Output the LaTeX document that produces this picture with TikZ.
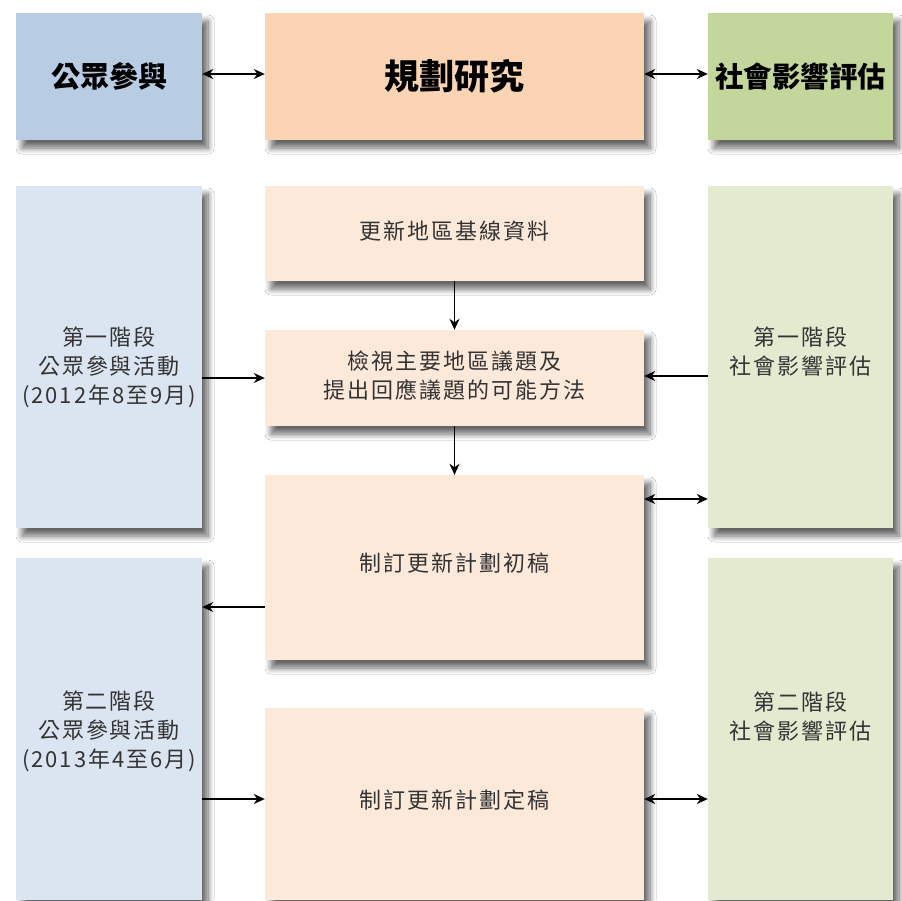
\documentclass[tikz,border=0pt]{standalone}
\usepackage{fontspec}
\setmainfont{Noto Sans CJK TC}
\newfontfamily\bodyfont[LetterSpace=9]{Noto Sans CJK TC}
\usetikzlibrary{arrows.meta,shadows.blur}
\definecolor{topblue}{HTML}{B8CCE4}
\definecolor{toporange}{HTML}{FBD4B4}
\definecolor{topgreen}{HTML}{C3D69B}
\definecolor{lowblue}{HTML}{DBE5F1}
\definecolor{loworange}{HTML}{FDE9D9}
\definecolor{lowgreen}{HTML}{E2EBD0}
\definecolor{txtgray}{HTML}{333333}
\tikzset{
  boxbase/.style={rectangle, inner sep=0pt, draw=none,
    blur shadow={shadow xshift=6pt, shadow yshift=-8pt, shadow blur radius=6pt, shadow blur steps=10, shadow opacity=60}},
  topbox/.style={boxbase, minimum height=127pt, font=\bfseries\fontsize{29}{34}\selectfont},
  lowbox/.style={boxbase},
  txt/.style={align=center, text=txtgray, font=\bodyfont\fontsize{22}{29}\selectfont, inner sep=0pt},
  arr/.style={-{Stealth[length=11pt,width=10pt]}, line width=1.6pt},
  darr/.style={{Stealth[length=11pt,width=10pt]}-{Stealth[length=11pt,width=10pt]}, line width=1.6pt}
}
\begin{document}
\begin{tikzpicture}[x=1pt,y=-1pt]
\useasboundingbox[fill=white] (0,0) rectangle (902,900);
% top row
\node[topbox, fill=topblue, minimum width=186pt] (pa) at (109,76.5) {公眾參與};
\node[topbox, fill=toporange, minimum width=379pt, font=\bfseries\fontsize{35}{40}\selectfont] (pr) at (454.5,76.5) {規劃研究};
\node[topbox, fill=topgreen, minimum width=185pt, font=\bfseries\fontsize{28.5}{34}\selectfont] (si) at (800.5,76.5) {社會影響評估};
% left column
\node[lowbox, fill=lowblue, minimum width=186pt, minimum height=342pt] (L1) at (109,357) {};
\node[lowbox, fill=lowblue, minimum width=186pt, minimum height=342pt] (L2) at (109,729) {};
% right column
\node[lowbox, fill=lowgreen, minimum width=185pt, minimum height=342pt] (R1) at (800.5,357) {};
\node[lowbox, fill=lowgreen, minimum width=185pt, minimum height=342pt] (R2) at (800.5,729) {};
% middle column
\node[lowbox, fill=loworange, minimum width=379pt, minimum height=95pt] (a) at (454.5,233.5) {};
\node[lowbox, fill=loworange, minimum width=379pt, minimum height=96pt] (b) at (454.5,378) {};
\node[lowbox, fill=loworange, minimum width=379pt, minimum height=185pt] (c) at (454.5,567.5) {};
\node[lowbox, fill=loworange, minimum width=379pt, minimum height=192pt] (d) at (454.5,804) {};
% texts
\node[txt] (ta) at (454.5,231) {更新地區基線資料};
\node[txt] (tb) at (454.5,376) {檢視主要地區議題及\\提出回應議題的可能方法};
\node[txt] (tc) at (454.5,563) {制訂更新計劃初稿};
\node[txt] (td) at (454.5,800) {制訂更新計劃定稿};
\node[txt] (tl1) at (109,367) {第一階段\\公眾參與活動\\(2012年8至9月)};
\node[txt] (tl2) at (109,731) {第二階段\\公眾參與活動\\(2013年4至6月)};
\node[txt] (tr1) at (800.5,352) {第一階段\\社會影響評估};
\node[txt] (tr2) at (800.5,717) {第二階段\\社會影響評估};
% helper coordinates
\coordinate (y74) at (0,74);
\coordinate (y376) at (0,376);
\coordinate (y378) at (0,378);
\coordinate (y499) at (0,499);
\coordinate (y607) at (0,607);
\coordinate (y799) at (0,799);
% connectors
\draw[darr] (pa.east |- y74) -- (pr.west |- y74);
\draw[darr] (pr.east |- y74) -- (si.west |- y74);
\draw[arr] (a.south) -- (b.north);
\draw[arr] (b.south) -- (c.north);
\draw[arr] (L1.east |- y378) -- (b.west |- y378);
\draw[arr] (R1.west |- y376) -- (b.east |- y376);
\draw[darr] (c.east |- y499) -- (R1.west |- y499);
\draw[arr] (c.west |- y607) -- (L2.east |- y607);
\draw[arr] (L2.east |- y799) -- (d.west |- y799);
\draw[darr] (d.east |- y799) -- (R2.west |- y799);
\end{tikzpicture}
\end{document}
